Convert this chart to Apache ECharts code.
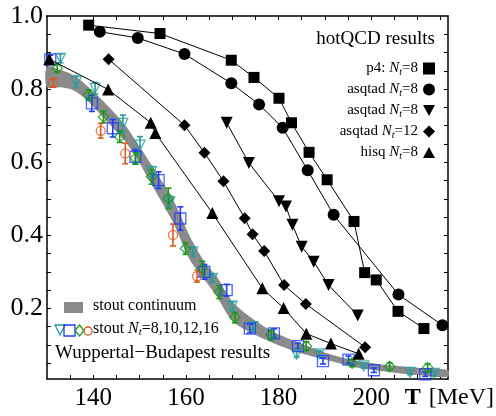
<!DOCTYPE html>
<html>
<head>
<meta charset="utf-8">
<script src="https://cdn.jsdelivr.net/npm/echarts@6/dist/echarts.min.js"></script>
<style>
	html, body { margin: 0; padding: 0; background: #fff; }
	#chart { width: 496px; height: 416px; }
</style>
</head>
<body>
<div id="chart"></div>
<script>
// axis ticks
var xLabels = [140, 160, 180, 200];
var xTicks = [135, 140, 145, 150, 155, 160, 165, 170, 175, 180, 185, 190, 195, 200, 205, 210, 215];
var yLabels = [0.2, 0.4, 0.6, 0.8, 1.0];
var yTicks = [0.05, 0.1, 0.15, 0.2, 0.25, 0.3, 0.35, 0.4, 0.45, 0.5, 0.55, 0.6, 0.65, 0.7, 0.75, 0.8, 0.85, 0.9, 0.95];

// hotQCD results [T, value]
var p4Nt8 = [[139, 0.975], [154.4, 0.952], [169.8, 0.879], [174.7, 0.832], [180.1, 0.775], [182.8, 0.708],
	[186.6, 0.627], [190.5, 0.552], [196.3, 0.438], [198.6, 0.298], [201.1, 0.278], [205.8, 0.192], [211.4, 0.145]];
var asqtadNt8c = [[141.4, 0.957], [149.6, 0.940], [159.7, 0.896], [169.8, 0.816], [175.8, 0.758], [180.9, 0.694],
	[186.3, 0.578], [191.9, 0.456], [205.9, 0.238], [215.4, 0.154]];
var asqtadNt8t = [[168.8, 0.708], [173.6, 0.598], [180.1, 0.493], [181.6, 0.479], [183.0, 0.429], [185.0, 0.369],
	[187.6, 0.328], [190.8, 0.264], [197.1, 0.181]];
var asqtadNt12 = [[143.3, 0.882], [159.7, 0.701], [164.0, 0.626], [168.1, 0.548], [172.7, 0.447], [174.4, 0.403],
	[176.9, 0.357], [181.2, 0.264], [185.9, 0.212], [198.7, 0.094]];
var hisqNt8 = [[130.5, 0.882], [143.2, 0.799], [152.4, 0.708], [153.4, 0.680], [165.7, 0.461], [176.5, 0.255],
	[181.1, 0.201], [186.0, 0.131], [191.3, 0.104], [197.3, 0.076]];

// Wuppertal-Budapest stout continuum band
var bandT = [130, 133, 136, 139, 143, 147, 150, 152.3, 157.3, 160.9, 164.5, 166.7, 170.3, 177.5, 184.7, 191.9, 196.2, 203.4, 210.6, 216.6];
var bandLo = [0.806, 0.805, 0.795, 0.765, 0.711, 0.655, 0.597, 0.545, 0.433, 0.332, 0.270, 0.232, 0.163, 0.113, 0.078, 0.054, 0.040, 0.027, 0.017, 0.013];
var bandHi = [0.862, 0.852, 0.836, 0.805, 0.756, 0.700, 0.642, 0.598, 0.496, 0.396, 0.318, 0.287, 0.215, 0.146, 0.105, 0.072, 0.059, 0.045, 0.037, 0.031];

// stout lattice points [T, value, error]
var stoutNt8 = [[132.9, 0.884, 0.012], [136.3, 0.820, 0.016], [140.4, 0.802, 0.016], [146.4, 0.706, 0.023], [150.1, 0.647, 0.023],
	[152.6, 0.574, 0.014], [156.5, 0.492, 0.014], [161.5, 0.355, 0.012], [165.7, 0.282, 0.010], [170.0, 0.206, 0.012],
	[174.5, 0.150, 0.010], [183.9, 0.075, 0.008], [188.8, 0.076, 0.008], [198.4, 0.043, 0.006], [208.4, 0.025, 0.006], [213.6, 0.022, 0.006]];
var stoutNt10 = [[130.7, 0.881, 0.012], [139.7, 0.761, 0.022], [144.2, 0.693, 0.024], [149.1, 0.615, 0.020], [154.1, 0.551, 0.023],
	[158.8, 0.446, 0.032], [164.0, 0.300, 0.020], [168.8, 0.250, 0.016], [173.8, 0.145, 0.012], [179.0, 0.132, 0.012],
	[184.2, 0.097, 0.008], [189.6, 0.056, 0.008], [195.1, 0.060, 0.010], [200.6, 0.031, 0.006], [211.7, 0.020, 0.006]];
var stoutNt12 = [[132.2, 0.857, 0.010], [139.0, 0.784, 0.014], [142.2, 0.724, 0.016], [145.7, 0.670, 0.016], [149.1, 0.611, 0.016],
	[152.6, 0.560, 0.020], [156.2, 0.501, 0.028], [159.9, 0.364, 0.016], [163.5, 0.309, 0.020], [167.2, 0.245, 0.018],
	[170.6, 0.175, 0.014], [178.4, 0.127, 0.014], [186.0, 0.097, 0.012], [195.9, 0.051, 0.010], [204.0, 0.041, 0.010], [212.2, 0.038, 0.010]];
var stoutNt16 = [[131.3, 0.817, 0.012], [141.6, 0.686, 0.020], [146.9, 0.624, 0.028], [157.2, 0.401, 0.030], [162.4, 0.288, 0.016]];

var serif = "'Liberation Serif', 'DejaVu Serif', serif";
var teal = "#2a9c9c", blue = "#1f3cff", green = "#199a19", orange = "#e0581e", bandGray = "#8a8a8a";

var legendLabels = {
	"p4": "{a|p4: }{n|N}{s|t}{a|=8}",
	"asqtad8c": "{a|asqtad }{n|N}{s|t}{a|=8}",
	"asqtad8t": "{a|asqtad }{n|N}{s|t}{a|=8}",
	"asqtad12": "{a|asqtad }{n|N}{s|t}{a|=12}",
	"hisq8": "{a|hisq }{n|N}{s|t}{a|=8}"
};
var richText = {
	a: { fontFamily: serif, fontSize: 15, color: "#000" },
	n: { fontFamily: serif, fontSize: 15, fontStyle: "italic", color: "#000" },
	s: { fontFamily: serif, fontSize: 10, fontStyle: "italic", color: "#000", padding: [7, 0, 0, 0] }
};

function errorBars(name, data, color) {
	return {
		name: name + "-err",
		type: "custom",
		z: 3,
		data: data,
		renderItem: function (params, api) {
			var x = api.value(0), y = api.value(1), e = api.value(2);
			var top = api.coord([x, y + e]);
			var bottom = api.coord([x, y - e]);
			var st = { stroke: color, lineWidth: 1.6 };
			return {
				type: "group",
				children: [
					{ type: "line", shape: { x1: top[0], y1: top[1], x2: bottom[0], y2: bottom[1] }, style: st },
					{ type: "line", shape: { x1: top[0] - 3, y1: top[1], x2: top[0] + 3, y2: top[1] }, style: st },
					{ type: "line", shape: { x1: bottom[0] - 3, y1: bottom[1], x2: bottom[0] + 3, y2: bottom[1] }, style: st }
				]
			};
		}
	};
}

function stoutPoints(name, data, color, symbol, size, rotate) {
	return {
		name: name,
		type: "scatter",
		z: 4,
		data: data,
		symbol: symbol,
		symbolSize: size,
		symbolRotate: rotate || 0,
		itemStyle: { color: "rgba(255,255,255,0)", borderColor: color, borderWidth: 1.3 }
	};
}

function hotLine(name, data, symbol, size, rotate) {
	return {
		name: name,
		type: "line",
		z: 6,
		data: data,
		symbol: symbol,
		symbolSize: size,
		symbolRotate: rotate || 0,
		showSymbol: true,
		animation: false,
		color: "#000",
		lineStyle: { color: "#000", width: 1 },
		itemStyle: { color: "#000" }
	};
}

function makeAxis(pos, isX, labels) {
	var axis = {
		type: "value",
		position: pos,
		min: isX ? 130 : 0.007,
		max: isX ? 216.6 : 1.0,
		axisLine: { show: true, onZero: false, lineStyle: { color: "#000", width: 1.5 } },
		axisTick: { show: true, inside: true, length: 4, customValues: isX ? xTicks : yTicks, lineStyle: { color: "#000", width: 1 } },
		splitLine: { show: false },
		axisLabel: { show: false }
	};
	if (labels) {
		axis.axisLabel = {
			show: true,
			customValues: isX ? xLabels : yLabels,
			fontFamily: serif,
			fontSize: isX ? 25 : 26,
			color: "#000",
			margin: isX ? 7 : 4,
			formatter: function (v) { return isX ? String(v) : v.toFixed(1); }
		};
	}
	return axis;
}

var chart = echarts.init(document.getElementById("chart"));

var option = {
	animation: false,
	grid: { left: 47, top: 16, width: 401, height: 363, show: false },
	xAxis: [makeAxis("bottom", true, true), makeAxis("top", true, false)],
	yAxis: [makeAxis("left", false, true), makeAxis("right", false, false)],
	legend: {
		orient: "vertical",
		right: 56,
		top: 56,
		align: "right",
		itemWidth: 12,
		itemHeight: 12,
		itemGap: 5,
		selectedMode: false,
		data: [
			{ name: "p4", icon: "rect" },
			{ name: "asqtad8c", icon: "circle" },
			{ name: "asqtad8t", icon: "path://M0,0L10,0L5,9Z" },
			{ name: "asqtad12", icon: "path://M5,0L10,5L5,10L0,5Z" },
			{ name: "hisq8", icon: "path://M5,0L10,9L0,9Z" }
		],
		formatter: function (name) { return legendLabels[name]; },
		textStyle: { fontFamily: serif, fontSize: 15, color: "#000", rich: richText }
	},
	graphic: [
		{ type: "text", right: 61, top: 30, style: { text: "hotQCD results", fontFamily: serif, fontSize: 19, fill: "#000" } },
		{ type: "rect", shape: { x: 64, y: 302, width: 19, height: 11 }, style: { fill: bandGray } },
		{ type: "text", left: 93, top: 298, style: { text: "stout continuum", fontFamily: serif, fontSize: 16, fill: "#000" } },
		{ type: "polygon", shape: { points: [[55, 325], [65, 325], [60, 335]] }, style: { fill: "none", stroke: teal, lineWidth: 1.3 } },
		{ type: "rect", shape: { x: 64, y: 325, width: 11, height: 11 }, style: { fill: "none", stroke: blue, lineWidth: 1.3 } },
		{ type: "polygon", shape: { points: [[79.5, 325], [84, 330.5], [79.5, 336], [75, 330.5]] }, style: { fill: "none", stroke: green, lineWidth: 1.3 } },
		{ type: "circle", shape: { cx: 88, cy: 331, r: 4 }, style: { fill: "none", stroke: orange, lineWidth: 1.3 } },
		{ type: "text", left: 93, top: 321, style: { text: "{a|stout }{n|N}{s|t}{a|=8,10,12,16}", rich: {
			a: { fontFamily: serif, fontSize: 16, fill: "#000" },
			n: { fontFamily: serif, fontSize: 16, fontStyle: "italic", fill: "#000" },
			s: { fontFamily: serif, fontSize: 11, fontStyle: "italic", fill: "#000", padding: [7, 0, 0, 0] }
		} } },
		{ type: "text", left: 55, top: 344, style: { text: "Wuppertal\u2212Budapest results", fontFamily: serif, fontSize: 19, fill: "#000" } },
		{ type: "text", right: 2, top: 386, style: { text: "{b|T}{m|[MeV]}", rich: {
			b: { fontFamily: serif, fontSize: 24, fontWeight: "bold", fill: "#000", padding: [0, 8, 0, 0] },
			m: { fontFamily: serif, fontSize: 24, fill: "#000" }
		} } }
	],
	series: [
		{
			name: "stout continuum",
			type: "custom",
			z: 1,
			data: [0],
			renderItem: function (params, api) {
				var pts = [];
				for (var i = 0; i < bandT.length; i++) {
					pts.push(api.coord([bandT[i], bandHi[i]]));
				}
				for (var j = bandT.length - 1; j >= 0; j--) {
					pts.push(api.coord([bandT[j], bandLo[j]]));
				}
				return { type: "polygon", shape: { points: pts, smooth: 0.3 }, style: { fill: bandGray } };
			}
		},
		errorBars("Nt8", stoutNt8, teal),
		errorBars("Nt10", stoutNt10, blue),
		errorBars("Nt12", stoutNt12, green),
		errorBars("Nt16", stoutNt16, orange),
		stoutPoints("Nt8", stoutNt8, teal, "triangle", 10, 180),
		stoutPoints("Nt10", stoutNt10, blue, "rect", 11),
		stoutPoints("Nt12", stoutNt12, green, "rect", 7.5, 45),
		stoutPoints("Nt16", stoutNt16, orange, "circle", 9),
		hotLine("p4", p4Nt8, "rect", 11),
		hotLine("asqtad8c", asqtadNt8c, "circle", 12),
		hotLine("asqtad8t", asqtadNt8t, "triangle", 12, 180),
		hotLine("asqtad12", asqtadNt12, "rect", 8.5, 45),
		hotLine("hisq8", hisqNt8, "triangle", 12)
	]
};

chart.setOption(option);
</script>
</body>
</html>
